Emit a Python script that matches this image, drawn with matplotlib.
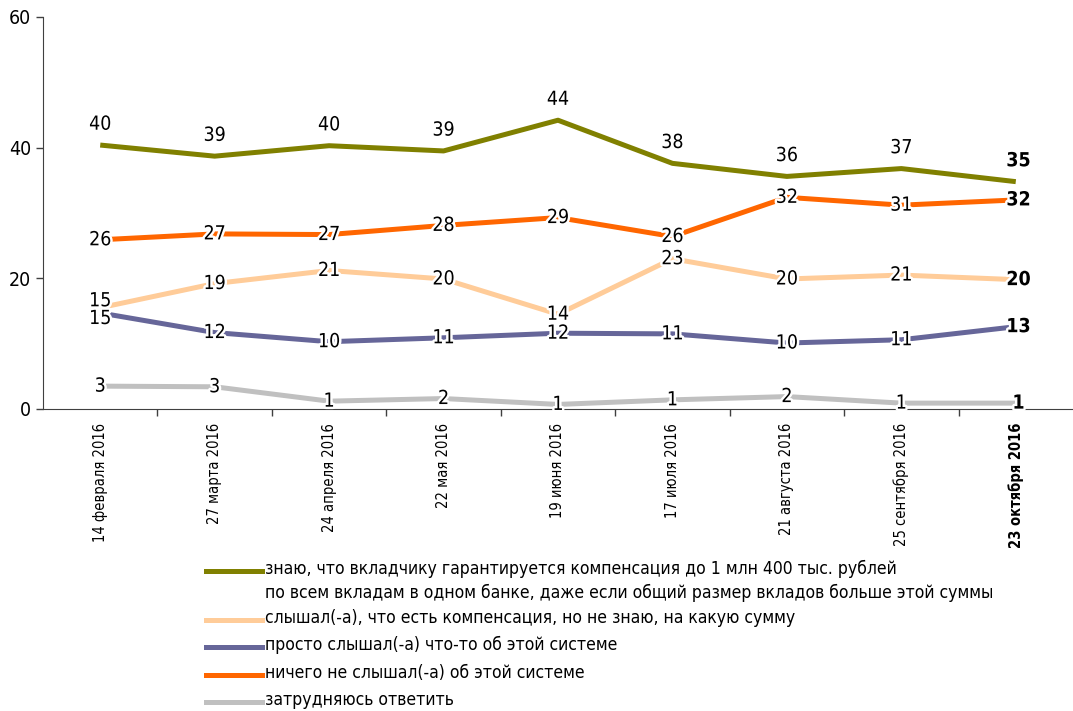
import matplotlib
matplotlib.use("Agg")
import matplotlib.pyplot as plt
import matplotlib.patheffects as pe
from matplotlib.lines import Line2D
from matplotlib.ticker import FixedLocator

plt.rcParams['font.family'] = ['DejaVu Sans']
plt.rcParams['font.stretch'] = 'condensed'

dates = ['14 февраля 2016', '27 марта 2016', '24 апреля 2016', '22 мая 2016',
         '19 июня 2016', '17 июля 2016', '21 августа 2016', '25 сентября 2016',
         '23 октября 2016']

# values as drawn, and the rounded labels shown next to them
know = [40.4, 38.7, 40.3, 39.5, 44.2, 37.6, 35.6, 36.8, 34.8]
know_lbl = [40, 39, 40, 39, 44, 38, 36, 37, 35]
heard_sum = [15.5, 19.2, 21.2, 19.9, 14.5, 23.0, 19.9, 20.5, 19.8]
heard_sum_lbl = [15, 19, 21, 20, 14, 23, 20, 21, 20]
heard_sth = [14.7, 11.7, 10.3, 10.9, 11.6, 11.5, 10.1, 10.6, 12.6]
heard_sth_lbl = [15, 12, 10, 11, 12, 11, 10, 11, 13]
nothing = [25.9, 26.8, 26.7, 28.1, 29.3, 26.4, 32.4, 31.2, 32.0]
nothing_lbl = [26, 27, 27, 28, 29, 26, 32, 31, 32]
dunno = [3.5, 3.4, 1.2, 1.6, 0.7, 1.4, 1.9, 0.9, 0.9]
dunno_lbl = [3, 3, 1, 2, 1, 1, 2, 1, 1]

names = ['знаю, что вкладчику гарантируется компенсация до 1 млн 400 тыс. рублей\n'
         'по всем вкладам в одном банке, даже если общий размер вкладов больше этой суммы',
         'слышал(-а), что есть компенсация, но не знаю, на какую сумму',
         'просто слышал(-а) что-то об этой системе',
         'ничего не слышал(-а) об этой системе',
         'затрудняюсь ответить']

c_know, c_sum, c_sth, c_not, c_dk = '#808000', '#FFCC99', '#666699', '#FF6600', '#C0C0C0'
colors = [c_know, c_sum, c_sth, c_not, c_dk]

W, H = 1073, 711
fig = plt.figure(figsize=(W / 100, H / 100), dpi=100)
ax = fig.add_axes([43 / W, 302 / H, 1030 / W, 392 / H])

x = list(range(len(dates)))
lw = 3.6
ax.plot(x, dunno, color=c_dk, lw=lw, solid_capstyle='butt', zorder=2)
ax.plot(x, heard_sth, color=c_sth, lw=lw, solid_capstyle='butt', zorder=2)
ax.plot(x, heard_sum, color=c_sum, lw=lw, solid_capstyle='butt', zorder=2)
ax.plot(x, nothing, color=c_not, lw=lw, solid_capstyle='butt', zorder=2)
ax.plot(x, know, color=c_know, lw=lw, solid_capstyle='butt', zorder=2)

halo = [pe.withStroke(linewidth=3.5, foreground='white')]
fs = 14


def put(i, v, s, dy=0):
    last = i == len(dates) - 1
    ax.annotate(str(s), (i, v), xytext=(2 if last else 0, dy), textcoords='offset points',
                ha='center', va='center', fontsize=fs,
                fontweight='bold' if last else 'normal',
                path_effects=halo, zorder=5)


for i in x:
    put(i, know[i], know_lbl[i], dy=15)
    put(i, nothing[i], nothing_lbl[i])
    put(i, heard_sum[i], heard_sum_lbl[i], dy=5 if i == 0 else 0)
    put(i, heard_sth[i], heard_sth_lbl[i], dy=-4 if i == 0 else 0)
    put(i, dunno[i], dunno_lbl[i])

ax.set_xlim(-0.5, 8.5)
ax.set_ylim(0, 60)
ax.set_yticks([0, 20, 40, 60])
ax.tick_params(axis='y', labelsize=14, length=5, width=1, color='#404040')
ax.set_xticks(x)
ax.set_xticklabels(dates, rotation=90, fontsize=10.5)
ax.get_xticklabels()[-1].set_fontweight('bold')
ax.tick_params(axis='x', which='major', length=0, pad=10)
ax.xaxis.set_minor_locator(FixedLocator([i + 0.5 for i in x[:-1]]))
ax.tick_params(axis='x', which='minor', length=5, width=1, color='#404040')
for s in ['top', 'right']:
    ax.spines[s].set_visible(False)
for s in ['left', 'bottom']:
    ax.spines[s].set_color('#404040')

# legend drawn by hand so the first handle sits on the first text line
rows = [571, 620, 647, 675, 702]
for c, name, y in zip(colors, names, rows):
    fig.add_artist(Line2D([206 / W, 262 / W], [1 - y / H, 1 - y / H], color=c, lw=3.6,
                          transform=fig.transFigure))
    fig.text(265 / W, 1 - (y - 11) / H, name, ha='left', va='top', fontsize=12.6,
             linespacing=1.4)

fig.savefig('out.png', dpi=100)
